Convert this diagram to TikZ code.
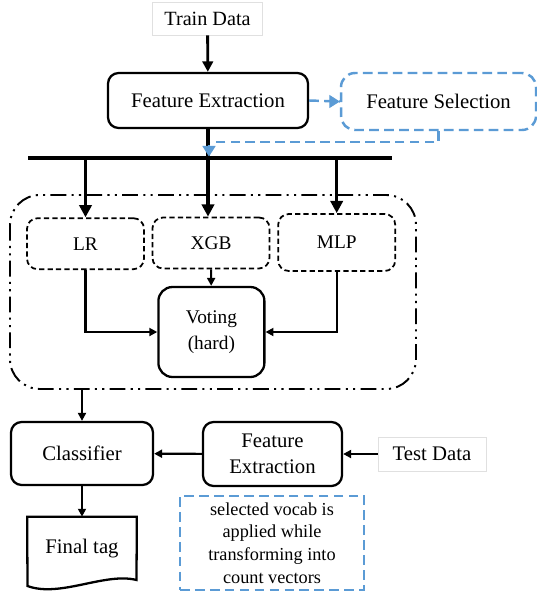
\documentclass[tikz,border=0pt]{standalone}
\usepackage{fontspec}
\setmainfont{Liberation Serif}
\usetikzlibrary{arrows.meta,positioning}
\definecolor{selblue}{HTML}{5B9BD5}
\tikzset{procbox/.style={draw,rounded corners=6pt,line width=1.3pt,align=center,font=\fontsize{11.8}{14.5}\selectfont},
    modelbox/.style={draw,rounded corners=6pt,line width=1pt,dash pattern=on 3pt off 1.8pt,minimum width=2.34cm,font=\fontsize{11}{13}\selectfont},
    databox/.style={draw=black!12,line width=0.4pt,font=\fontsize{11.5}{14}\selectfont},
    selbox/.style={draw=selblue,line width=1.4pt,dash pattern=on 5.5pt off 3pt,align=center},
    selline/.style={selblue,line width=1.4pt,dash pattern=on 5.5pt off 3pt},
    seltip/.style={selblue,line width=0.6pt,-{Triangle[width=7.5pt,length=6pt,fill=selblue]}},
    bigarrow/.style={line width=2pt,-{Triangle[width=7pt,length=7pt]}},
    midarrow/.style={line width=1.6pt,-{Triangle[width=6pt,length=6pt]}},
    smallarrow/.style={line width=1.2pt,-{Triangle[width=4.5pt,length=4.5pt]}},
    ensemble/.style={line width=1.1pt,rounded corners=17pt,dash pattern=on 9pt off 3pt on 1.2pt off 3pt on 1.2pt off 3pt}
}

\begin{document}
\begin{tikzpicture}[x=0.02cm,y=-0.02cm]
\useasboundingbox (0,0) rectangle (537,592);

%% training side
\node (train) at (207.5,18.5) [databox,minimum width=2.19cm,minimum height=0.66cm] {Train Data};
\node (fe) at (208,100.5) [procbox,minimum width=4cm,minimum height=1.1cm] {Feature Extraction};
\node (fs) at (438.5,101.5) [selbox,rounded corners=8pt,minimum width=3.9cm,minimum height=1.14cm,font=\fontsize{11.8}{14.5}\selectfont] {Feature Selection};

\draw [midarrow] (train) -- (fe);
\draw [selline] (fe.east) -- (fs.west);
\draw [seltip] ([xshift=-7pt]fs.west) -- (fs.west);

% bus
\coordinate (barL) at (28,158);
\coordinate (barR) at (392,158);
\coordinate (selin) at (209,142);
\coordinate (seltail) at (209,145);
\coordinate (bartop) at (209,156.5);

\draw [selline] (fs.south) |- (selin);
\draw [line width=2.2pt] (fe.south) -- (fe.south |- barL);
\draw [seltip] (seltail) -- (bartop);
\draw [line width=2.8pt] (barL) -- (barR);

%% ensemble
\draw [ensemble] (10,195) rectangle (416,389);

\node (lr) at (85.5,243.7) [modelbox,minimum height=1.02cm] {LR};
\node (xgb) at (211,243) [modelbox,minimum height=1.02cm] {XGB};
\node (mlp) at (336.7,242.5) [modelbox,minimum height=1.14cm] {MLP};
\node (vote) at (211.4,332) [procbox,rounded corners=8pt,minimum width=2.12cm,minimum height=1.8cm,font=\fontsize{11}{14.8}\selectfont] {Voting\\(hard)};

\draw [bigarrow] (lr.north |- barL) -- (lr.north);
\draw [bigarrow] (fe.south |- barL) -- (fe.south |- xgb.north);
\draw [bigarrow] (mlp.north |- barL) -- (mlp.north);

\draw [smallarrow] (xgb) -- (vote);
\draw [smallarrow] (lr.south) |- (vote.west);
\draw [smallarrow] (mlp.south) |- (vote.east);

%% testing side
\coordinate (ensout) at (82,389);
\node (clf) at (82,453.5) [procbox,minimum width=2.84cm,minimum height=1.26cm] {Classifier};
\node (fe2) at (272.5,454) [procbox,minimum width=2.78cm,minimum height=1.28cm] {Feature\\Extraction};
\node (test) at (432,454) [databox,minimum width=2.16cm,minimum height=0.68cm,font=\fontsize{11.8}{14}\selectfont] {Test Data};
\node (final) at (82,549) [minimum width=2.18cm,minimum height=1.28cm,font=\fontsize{11.8}{14}\selectfont] {Final tag};
\node (note) at (272,543) [selbox,minimum width=3.68cm,minimum height=1.88cm,font=\fontsize{10.4}{12.9}\selectfont] {selected vocab is\\applied while\\transforming into\\count vectors};

% document shape
\draw [line width=1.3pt,line join=miter] (27.5,586) -- (final.north west) -- (final.north east) -- (136.5,580)
    .. controls (105,572) and (60,598) .. (27.5,586) -- cycle;

\draw [smallarrow] (ensout) -- (clf);
\draw [smallarrow] (test) -- (fe2);
\draw [smallarrow] (fe2) -- (clf);
\draw [smallarrow] (clf) -- (final.north);

\end{tikzpicture}
\end{document}
